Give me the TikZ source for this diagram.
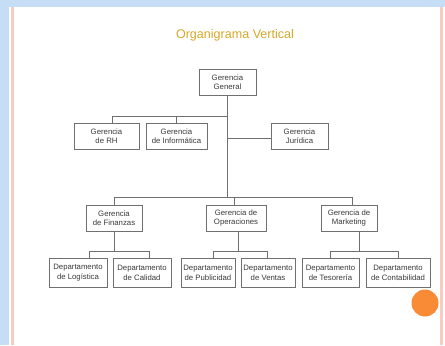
\documentclass[tikz,border=0pt]{standalone}
\usepackage{fontspec}
\setmainfont{Liberation Sans}
\definecolor{fondo}{HTML}{C6DDF6}
\definecolor{borde}{HTML}{F6CDBE}
\definecolor{titulo}{HTML}{D6A829}
\definecolor{linea}{HTML}{707070}
\definecolor{naranja}{HTML}{F98B36}
\definecolor{texto}{HTML}{3A3A3A}

\begin{document}
\begin{tikzpicture}[x=1bp,y=-1bp,
  caja/.style={draw=linea, line width=0.6bp, fill=white, align=center, inner sep=0pt,
    minimum height=26bp, font=\fontsize{7.8}{9.4}\selectfont, text=texto},
  depto/.style={caja, minimum height=29bp, font=\fontsize{7.8}{10}\selectfont},
  conector/.style={draw=linea, line width=0.6bp}]
\useasboundingbox (0,0) rectangle (445,345);
\fill[fondo] (0,0) rectangle (445,345);
\fill[white] (9,7) rectangle (445,345);
\fill[borde] (11,7) rectangle (14,345);
\fill[borde] (440,7) rectangle (442.5,345);
\fill[naranja] (425,303) circle (13.5);

\node[font=\fontsize{12.6}{14}\selectfont, text=titulo] (tit) at (235,35) {Organigrama Vertical};

\node[caja, minimum width=57bp] (gg) at (227.5,82) {Gerencia\\General};
\node[caja, minimum width=65bp] (rh) at (106.5,136) {Gerencia\\de RH};
\node[caja, minimum width=61bp] (inf) at (176.5,136) {Gerencia\\de Informática};
\node[caja, minimum width=57bp] (jur) at (299.5,136) {Gerencia\\Jurídica};
\node[caja, minimum width=56bp] (fin) at (114,218) {Gerencia\\de Finanzas};
\node[caja, minimum width=60bp] (ope) at (236,218) {Gerencia de\\Operaciones};
\node[caja, minimum width=56bp] (mkt) at (349,218) {Gerencia de\\Marketing};
\node[depto, minimum width=58bp] (log) at (78,272.5) {Departamento\\de Logística};
\node[depto, minimum width=58bp] (cal) at (142,272.5) {Departamento\\de Calidad};
\node[depto, minimum width=54bp] (pub) at (208,272.5) {Departamento\\de Publicidad};
\node[depto, minimum width=54bp] (ven) at (268,272.5) {Departamento\\de Ventas};
\node[depto, minimum width=57bp] (tes) at (330.5,272.5) {Departamento\\de Tesorería};
\node[depto, minimum width=64bp] (con) at (398,272.5) {Departamento\\de Contabilidad};

\coordinate (b1) at (227.5,116);
\coordinate (b2) at (227.5,197);
\draw[conector] (gg.south) -- (b2);
\draw[conector] (b1) -| ([xshift=5.5bp]rh.north);
\draw[conector] (b1) -| (inf.north);
\draw[conector] ([yshift=-2bp]jur.west) -- ([yshift=-2bp]jur.west -| gg.south);
\draw[conector] (b2) -| (fin.north);
\draw[conector] (b2) -| ([xshift=-2bp]ope.north);
\draw[conector] (b2) -| ([xshift=3bp]mkt.north);

\draw[conector] (fin.south) -- ++(0,20) coordinate (b3);
\draw[conector] (b3) -| ([xshift=11bp]log.north);
\draw[conector] (b3) -| ([xshift=7bp]cal.north);
\draw[conector] ([xshift=2bp]ope.south) -- ++(0,20) coordinate (b4);
\draw[conector] (b4) -| ([xshift=5bp]pub.north);
\draw[conector] (b4) -| ([xshift=-1bp]ven.north);
\draw[conector] ([xshift=10bp]mkt.south) -- ++(0,20) coordinate (b5);
\draw[conector] (b5) -| (tes.north);
\draw[conector] (b5) -| (con.north);
\end{tikzpicture}
\end{document}
